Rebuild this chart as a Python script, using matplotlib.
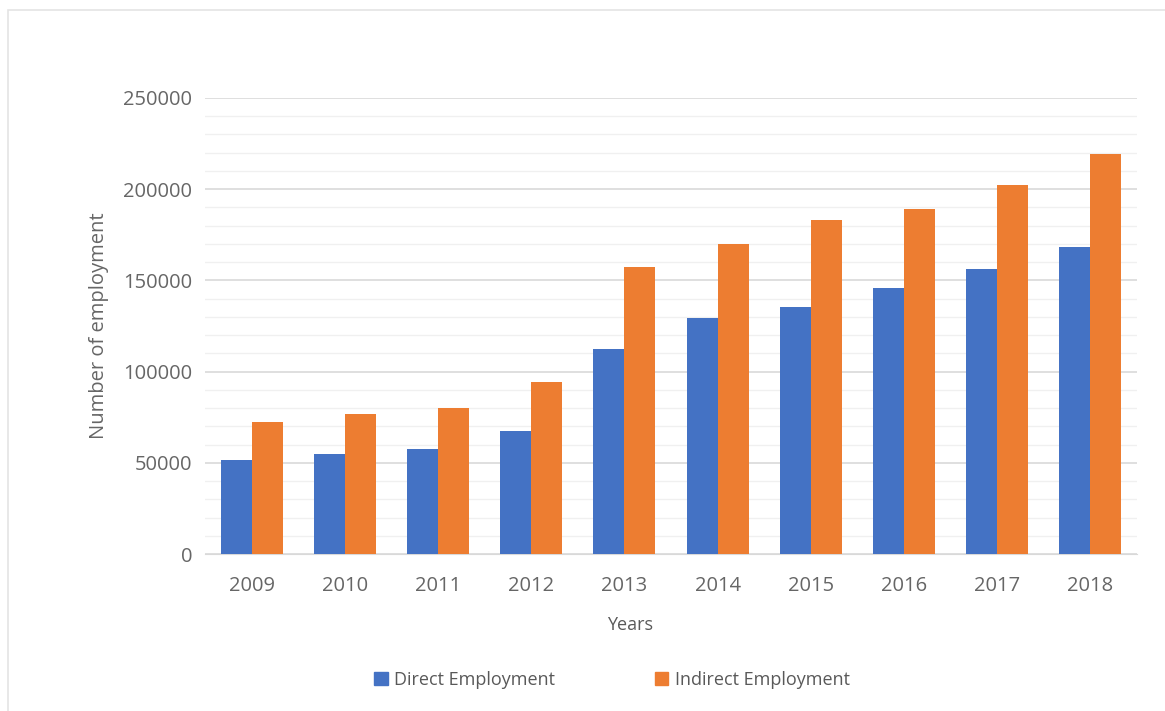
import numpy as np
import matplotlib.pyplot as plt
from matplotlib.patches import Patch, Rectangle
from matplotlib.ticker import MultipleLocator

years = ['2009', '2010', '2011', '2012', '2013', '2014', '2015', '2016', '2017', '2018']
direct = [51500, 54700, 57400, 67400, 112200, 129200, 135400, 145800, 156200, 168300]
indirect = [72500, 76600, 80200, 94500, 157500, 169700, 183100, 189100, 202300, 219300]

blue = '#4472C4'
orange = '#ED7D31'
text_col = '#595959'

plt.rcParams['font.family'] = ['Open Sans', 'DejaVu Sans']

fig = plt.figure(figsize=(11.65, 7.11), dpi=100)
# light frame around the chart area
fig.patches.append(Rectangle((8 / 1165, -0.1), 1.2, 1 - 10 / 711 + 0.1,
                             transform=fig.transFigure, fill=False,
                             edgecolor='#e4e4e4', linewidth=1.2))

ax = fig.add_axes([205 / 1165, 1 - 554 / 711, 932 / 1165, 456 / 711])

x = np.arange(len(years))
w = 0.333
ax.bar(x - w / 2, direct, w, color=blue, label='Direct Employment', zorder=3)
ax.bar(x + w / 2, indirect, w, color=orange, label='Indirect Employment', zorder=3)

ax.set_xlim(-0.5, len(years) - 0.5)
ax.set_ylim(0, 250000)
ax.yaxis.set_major_locator(MultipleLocator(50000))
ax.yaxis.set_minor_locator(MultipleLocator(10000))
ax.grid(axis='y', which='major', color='#d9d9d9', linewidth=1.2, zorder=0)
ax.grid(axis='y', which='minor', color='#f0f0f0', linewidth=1.0, zorder=0)
ax.set_axisbelow(True)

for s in ['top', 'right', 'left']:
    ax.spines[s].set_visible(False)
ax.spines['bottom'].set_color('#d9d9d9')

ax.set_xticks(x)
ax.set_xticklabels(years)
ax.tick_params(axis='both', which='both', length=0, colors='#666666', labelsize=14.5)
ax.tick_params(axis='x', pad=16)
ax.tick_params(axis='y', pad=9)

ax.set_ylabel('Number of employment', fontsize=14.5, color='#666666', labelpad=10)
fig.text(630 / 1165, 1 - 625 / 711, 'Years', ha='center', va='center',
         fontsize=13, color=text_col)

handles = [Patch(color=blue), Patch(color=orange)]
fig.legend(handles, ['Direct Employment', 'Indirect Employment'],
           loc='center', bbox_to_anchor=(612 / 1165, 1 - 680 / 711), ncol=2,
           frameon=False, fontsize=13, labelcolor=text_col,
           handlelength=0.75, handleheight=0.75, handletextpad=0.35,
           columnspacing=5.5)

fig.savefig('out.png', dpi=100, facecolor='white')
